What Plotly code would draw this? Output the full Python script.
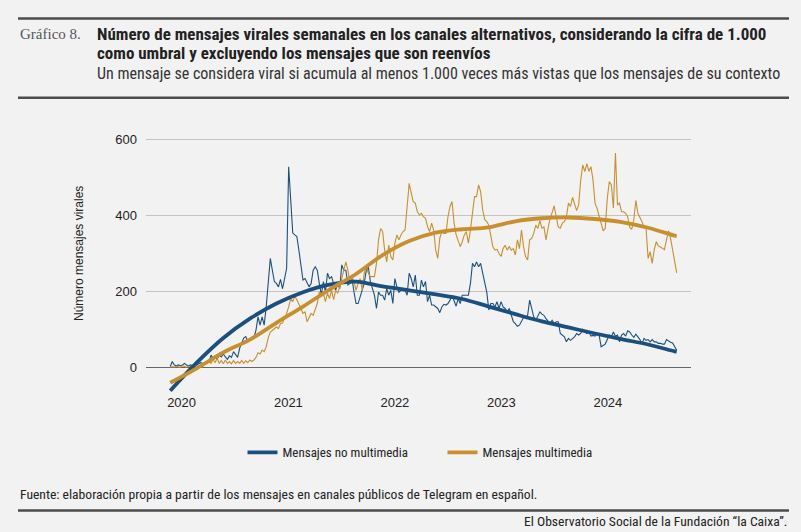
import pandas as pd
import plotly.graph_objects as go

# --- Data (weekly counts) ---
START_WEEK = "2019-11-23"
N_WEEKS = 249

no_multimedia = [
    2, 15, 6, 4, 6, 4, 6, 10, 6, 4, 6, 4, 6, 6, 9, 12, 10, 12, 15, 13,
    32, 24, 30, 21, 32, 27, 35, 27, 21, 30, 26, 41, 32, 26, 50, 65, 77, 81, 68, 72, 77,
    78, 98, 133, 111, 133, 111, 159, 226, 287, 256, 226, 221, 212, 232, 207, 234, 261, 529,
    430, 354, 349, 345, 309, 265, 230, 234, 221, 212, 221, 256, 265, 256, 221, 190, 226,
    198, 248, 234, 239, 221, 203, 221, 207,
    270, 256, 256, 217, 221, 234, 198, 168, 168, 186, 198, 221, 256, 265, 226, 207, 190,
    155, 198, 190, 190, 177, 207, 190, 203, 168, 234, 212, 198, 203, 207, 203, 190, 248,
    234, 212, 243, 190, 190, 230, 212,
    226, 173, 190, 164, 164, 159, 155, 144, 159, 166, 164, 168, 177, 190, 177, 161, 181,
    168, 190, 190, 190, 190, 221, 274, 265, 278, 265, 274, 248, 226, 198, 151, 168, 168,
    159, 173, 155, 173, 159, 155, 146, 155,
    137, 120, 115, 108, 111, 120, 131, 131, 137, 177, 151, 133, 124, 137, 146, 140, 137,
    128, 120, 115, 124, 115, 120, 120, 89, 85, 80, 67, 76, 71, 76, 80, 89, 85, 89, 100,
    93, 89, 93, 82, 84,
    82, 89, 85, 54, 58, 61, 73, 85, 80, 93, 82, 85, 67, 85, 89, 82, 96, 93, 85, 79, 87,
    80, 73, 61, 76, 71, 73, 67, 73, 67, 67, 63, 63, 61, 61, 73, 69, 66, 64, 55, 45,
]

multimedia = [
    0, 2, 0, 3, 1, 0, 4, 2, 0, 3, 1, 5, 2, 4, 3,
    6, 10, 13, 10, 19, 10, 21, 12, 24, 10, 18, 9, 19, 10, 15, 9, 18, 10, 15, 10, 18, 10,
    17, 12, 19, 15,
    19, 26, 38, 35, 45, 41, 54, 78, 93, 97, 102, 106, 102, 115, 117, 129, 142, 159, 181,
    173, 187, 178, 168, 155, 142, 146, 120, 133, 142, 137, 151, 168, 199, 187, 195, 173,
    195, 181, 203, 178, 203, 195, 212,
    239, 256, 278, 256, 221, 239, 226, 203, 221, 234, 203, 248, 265, 248, 239, 239, 239,
    274, 336, 366, 358, 309, 278, 322, 292, 283, 327, 349, 336, 349, 358, 362, 415, 485,
    460, 437, 433, 410, 402, 406, 397,
    393, 371, 358, 380, 362, 309, 287, 340, 358, 353, 353, 397, 424, 437, 380, 349, 331,
    318, 331, 349, 358, 327, 362, 415, 450, 450, 481, 463, 415, 389, 384, 375, 344, 318,
    309, 311, 300, 292, 313, 322, 309, 318,
    309, 313, 296, 336, 313, 362, 318, 292, 283, 336, 340, 353, 375, 366, 387, 367, 370,
    336, 366, 393, 408, 426, 397, 370, 367, 380, 384, 397, 433, 424, 448, 433, 413, 428,
    494, 534, 516, 537, 517, 529, 495,
    433, 419, 399, 375, 360, 366, 445, 490, 481, 420, 565, 428, 433, 410, 410, 406, 397,
    369, 364, 389, 440, 406, 396, 384, 369, 366, 287, 305, 274, 310, 331, 320, 317, 313,
    310, 336, 360, 340, 313, 278, 249,
]

# smoothed trends, one value every 13 weeks plus the last week
TREND_STEP = 13
trend_no_multimedia = [-62, 12, 77, 128, 168, 198, 218, 226, 213, 203, 192,
                       180, 160, 140, 121, 105, 89, 74, 60, 42, 41]
trend_multimedia = [-41, -3, 39, 73, 117, 160, 205, 246, 296, 333, 355,
                    364, 369, 385, 393, 395, 391, 383, 368, 347, 346]

BLUE = "#1a5080"
GOLD = "#c98f2d"
BG = "#f2f2f2"
RULE = "#4d4d4d"
NARROW = "Liberation Sans Narrow, Roboto Condensed, Arial Narrow, sans-serif"
SANS = "Liberation Sans, Arial, sans-serif"

weeks = pd.date_range(START_WEEK, periods=N_WEEKS, freq="7D")
trend_idx = list(range(0, N_WEEKS, TREND_STEP))
if trend_idx[-1] != N_WEEKS - 1:
    trend_idx.append(N_WEEKS - 1)
trend_weeks = weeks[trend_idx]

fig = go.Figure()

fig.add_trace(go.Scatter(
    x=weeks, y=no_multimedia, mode="lines",
    line=dict(color=BLUE, width=1.1), showlegend=False, hoverinfo="skip",
))
fig.add_trace(go.Scatter(
    x=weeks, y=multimedia, mode="lines",
    line=dict(color=GOLD, width=1.1), showlegend=False, hoverinfo="skip",
))
fig.add_trace(go.Scatter(
    x=trend_weeks, y=trend_no_multimedia, mode="lines", name="Mensajes no multimedia",
    line=dict(color=BLUE, width=3.8, shape="spline", smoothing=1.0),
))
fig.add_trace(go.Scatter(
    x=trend_weeks, y=trend_multimedia, mode="lines", name="Mensajes multimedia",
    line=dict(color=GOLD, width=3.8, shape="spline", smoothing=1.0),
))

# --- Layout (pixel positions converted to paper coords) ---
W, H = 801, 532
L, R = 146, 691
T, B = 136.2, 392.7


def px(xp):
    return (xp - L) / (R - L)


def py(yp):
    return (B - yp) / (B - T)


# horizontal rules: under the header, above the credit, and the top one last
shapes = [
    dict(type="line", xref="paper", yref="paper", layer="above",
         x0=px(18), x1=px(789), y0=py(y_rule), y1=py(y_rule),
         line=dict(color=RULE, width=2.5))
    for y_rule in (98, 510, 19)
]


def note(text, x, y, size, color="#222", family=NARROW, xanchor="left", **kw):
    return dict(text=text, x=px(x), y=py(y), xref="paper", yref="paper",
                xanchor=xanchor, yanchor="middle", showarrow=False,
                font=dict(size=size, color=color, family=family), **kw)


annotations = [
    note("Gráfico 8.", 18, 34, 15, color="#555", family="Liberation Serif, serif"),
    note("<b>Número de mensajes virales semanales en los canales alternativos, "
         "considerando la cifra de 1.000</b>", 95, 34, 17),
    note("<b>como umbral y excluyendo los mensajes que son reenvíos</b>", 95, 53, 17),
    note("Un mensaje se considera viral si acumula al menos 1.000 veces más vistas "
         "que los mensajes de su contexto", 95, 74, 16, color="#333"),
    note("Número mensajes virales", 79, 254, 12, family=SANS, xanchor="center",
         textangle=-90),
    note("Fuente: elaboración propia a partir de los mensajes en canales públicos de "
         "Telegram en español.", 18, 494, 13.6),
    note("El Observatorio Social de la Fundación “la Caixa”.", 789, 520, 13.6,
         xanchor="right"),
]

fig.update_layout(
    width=W, height=H,
    margin=dict(l=L, r=W - R, t=T, b=H - B, pad=0),
    paper_bgcolor=BG, plot_bgcolor=BG,
    shapes=shapes, annotations=annotations,
    legend=dict(orientation="h", x=0.5 + 24 / (R - L), xanchor="center",
                y=py(452), yanchor="middle",
                font=dict(size=13, color="#222", family=NARROW),
                bgcolor="rgba(0,0,0,0)", itemwidth=30, entrywidth=155),
    xaxis=dict(
        range=["2019-09-01", "2024-10-12"], type="date",
        dtick="M12", tick0="2020-01-01", tickformat="%Y",
        showgrid=False, showline=False, zeroline=False, ticks="",
        tickfont=dict(size=13, color="#222", family=SANS),
    ),
    yaxis=dict(
        range=[-68, 610], tickvals=[0, 200, 400, 600],
        showgrid=True, gridcolor="#c4c4c4", gridwidth=1,
        zeroline=True, zerolinecolor="#666", zerolinewidth=1.4,
        showline=False, ticks="", ticklabelstandoff=8,
        tickfont=dict(size=13, color="#222", family=SANS),
    ),
)

fig.write_html("out.html", config={"displayModeBar": False},
               post_script="document.body.style.margin='0';")
